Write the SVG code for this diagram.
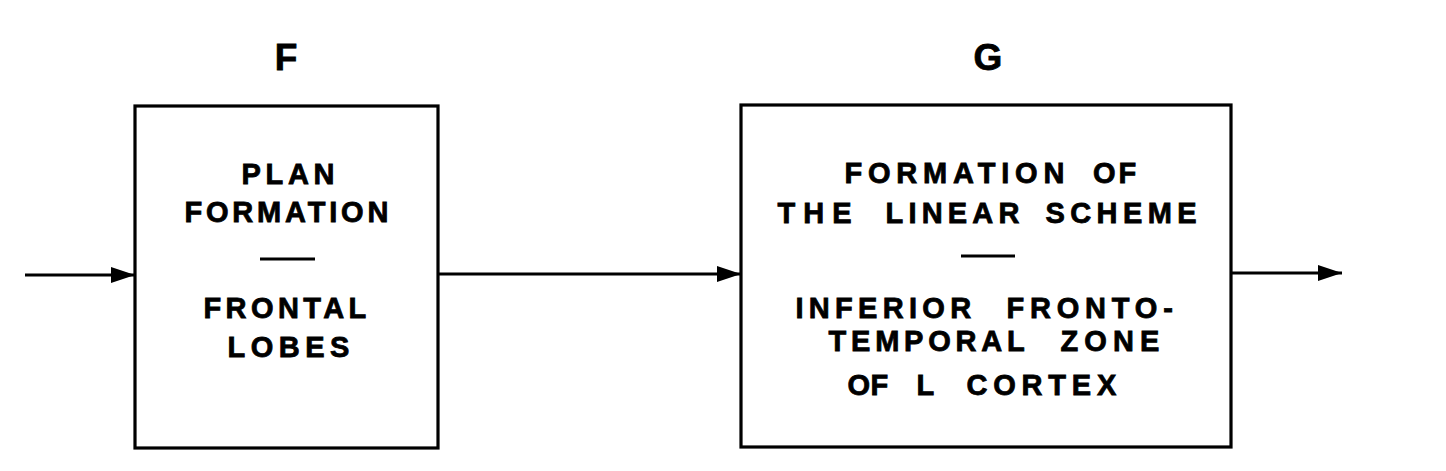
<svg xmlns="http://www.w3.org/2000/svg" width="1446" height="471" viewBox="0 0 1446 471">
<style>
.box{fill:none;stroke:#000;stroke-width:3.2}
.t{font-family:"Liberation Sans",Arial,sans-serif;font-weight:bold;font-size:29px;fill:#000;stroke:#000;stroke-width:0.8}
.lbl{font-family:"Liberation Sans",Arial,sans-serif;font-weight:bold;font-size:37px;fill:#000;stroke:#000;stroke-width:0.8;text-anchor:middle}
.dash{stroke:#000;stroke-width:3.2}
.conn{stroke:#000;stroke-width:3.2;fill:none}
</style>
<defs>
<marker id="ah" markerUnits="userSpaceOnUse" markerWidth="26" markerHeight="18" refX="24" refY="8" orient="auto">
<path d="M0,0 L24,8 L0,16 Z" fill="#000"/>
</marker>
</defs>
<rect width="1446" height="471" fill="#fff"/>
<g id="connectors">
<line class="conn" x1="25" y1="275" x2="135" y2="275" marker-end="url(#ah)"/>
<line class="conn" x1="438" y1="274" x2="741" y2="274" marker-end="url(#ah)"/>
<line class="conn" x1="1231" y1="273" x2="1342" y2="273" marker-end="url(#ah)"/>
</g>
<g id="nodeF">
<text class="lbl" x="286" y="70">F</text>
<rect class="box" x="135" y="106" width="303" height="342"/>
<text class="t" x="241.5" y="184" letter-spacing="4.7">PLAN</text>
<text class="t" x="184.5" y="222" letter-spacing="3.8">FORMATION</text>
<line class="dash" x1="260" y1="259" x2="315" y2="259"/>
<text class="t" x="203.5" y="318" letter-spacing="4.4">FRONTAL</text>
<text class="t" x="227.5" y="357" letter-spacing="5.5">LOBES</text>
</g>
<g id="nodeG">
<text class="lbl" x="988" y="70">G</text>
<rect class="box" x="741" y="105" width="490" height="342"/>
<text class="t" y="183"><tspan x="844.5" letter-spacing="5.8">FORMATION</tspan> <tspan x="1093" letter-spacing="3">OF</tspan></text>
<text class="t" y="223"><tspan x="777.5" letter-spacing="8">THE</tspan> <tspan x="885.5" letter-spacing="5.2">LINEAR</tspan> <tspan x="1045.5" letter-spacing="5.4">SCHEME</tspan></text>
<line class="dash" x1="961" y1="256" x2="1015" y2="256"/>
<text class="t" y="318"><tspan x="795.5" letter-spacing="5.3">INFERIOR</tspan> <tspan x="1006.5" letter-spacing="5.8">FRONTO-</tspan></text>
<text class="t" y="351"><tspan x="828.5" letter-spacing="4.8">TEMPORAL</tspan> <tspan x="1060.5" letter-spacing="6.1">ZONE</tspan></text>
<text class="t" y="395"><tspan x="847.5" letter-spacing="0.5">OF</tspan> <tspan x="916.5">L</tspan> <tspan x="966.5" letter-spacing="5.8">CORTEX</tspan></text>
</g>
</svg>
